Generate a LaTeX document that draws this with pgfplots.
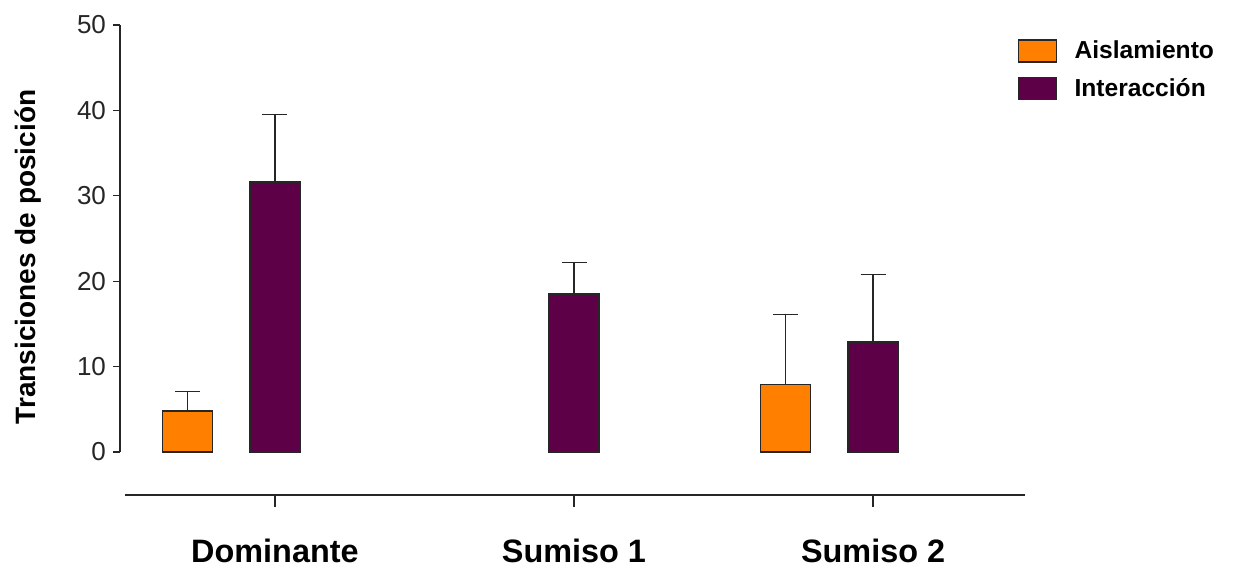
\documentclass[border=0pt]{standalone}
\usepackage{pgfplots}
\pgfplotsset{compat=1.18}
\usepackage{fontspec}
\setmainfont{Liberation Sans}
\definecolor{aisl}{HTML}{FF8000}
\definecolor{inter}{HTML}{5E0048}
\begin{document}
\begin{tikzpicture}[x=1pt,y=1pt]
\path[use as bounding box] (0,0) rectangle (617,283.5);
\begin{axis}[
  at={(60pt,36pt)}, anchor=south west,
  scale only axis, width=452.5pt, height=235pt,
  xmin=-0.518, xmax=2.508, ymin=-5.03, ymax=50,
  axis lines=left,
  axis line style={draw=none},
  tick align=outside,
  major tick length=3.5pt,
  ytick={0,10,20,30,40,50},
  xtick={0,1,2},
  xticklabels={Dominante,Sumiso 1,Sumiso 2},
  x tick style={draw=none},
  y tick style={black!85, line width=0.6pt},
  xticklabel style={font=\bfseries\fontsize{16.2}{18}\selectfont, yshift=-15pt},
  yticklabel style={font=\fontsize{13}{15}\selectfont, text=black!85},
  /pgf/number format/assume math mode=true,
  ybar, bar width=0.167, bar shift=0pt,
  clip=false,
  legend cell align=left,
  legend style={draw=none, fill=none, at={(rel axis cs:0.985,0.985)}, anchor=north west,
    font=\bfseries\fontsize{12.3}{14}\selectfont, row sep=4.5pt},
  legend image code/.code={\draw[#1, draw=black!85, line width=0.7pt] (0pt,-5.5pt) rectangle (19pt,5.5pt);
    \path[draw=none, fill=none] (0pt,0pt) -- (26pt,0pt);},
  error bars/y dir=plus, error bars/y explicit,
  error bars/error bar style={black!85, line width=0.6pt},
  error bars/error mark options={black!85, line width=0.6pt, mark size=6.25pt, rotate=90},
]
\addplot[fill=aisl, draw=black!85, line width=0.7pt] coordinates {(-0.293,4.8) +- (0,2.3) (1.707,7.9) +- (0,8.2)};
\addlegendentry{Aislamiento}
\addplot[fill=inter, draw=black!85, line width=0.7pt] coordinates {(0,31.6) +- (0,7.9) (1,18.5) +- (0,3.7) (2,12.9) +- (0,7.9)};
\addlegendentry{Interacción}
\draw[black!85, line width=0.7pt] (axis cs:-0.518,0) -- (axis cs:-0.518,50);
\draw[black!85, line width=0.7pt] (axis cs:-0.502,-5.03) -- (axis cs:2.508,-5.03);
\draw[black!85, line width=0.6pt] (axis cs:0,-5.03) -- ([yshift=-6pt]axis cs:0,-5.03);
\draw[black!85, line width=0.6pt] (axis cs:1,-5.03) -- ([yshift=-6pt]axis cs:1,-5.03);
\draw[black!85, line width=0.6pt] (axis cs:2,-5.03) -- ([yshift=-6pt]axis cs:2,-5.03);
\end{axis}
\node[rotate=90, font=\bfseries\fontsize{14}{16}\selectfont] at (14,155) {Transiciones de posición};
\end{tikzpicture}
\end{document}
